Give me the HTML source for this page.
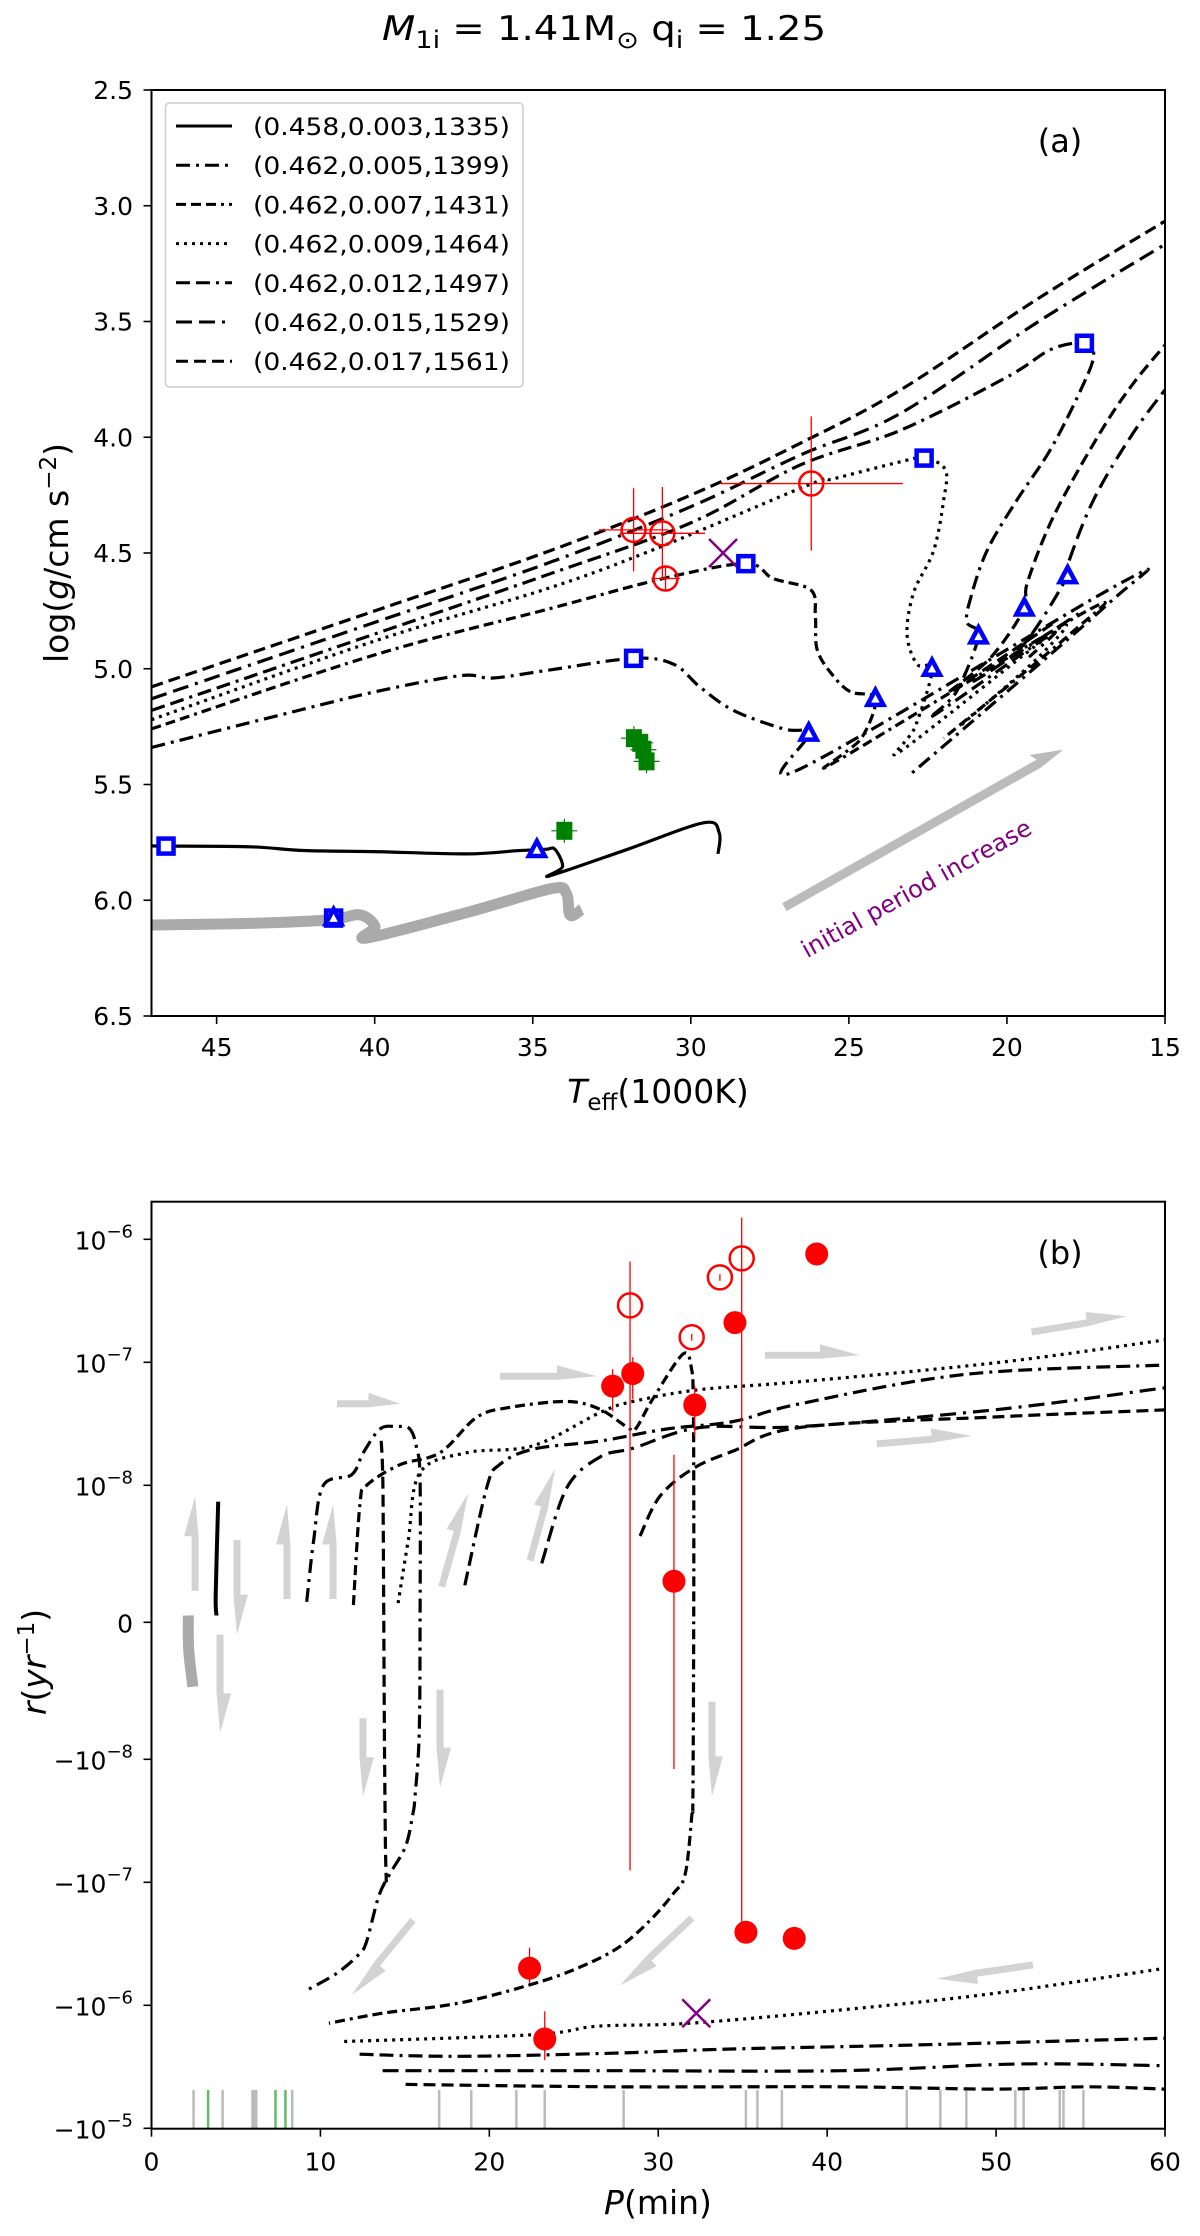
<!DOCTYPE html>
<html><head><meta charset="utf-8"><style>
body{margin:0;background:#fff}
svg text{font-family:"DejaVu Sans","Liberation Sans",sans-serif}
</style></head><body>
<svg id="fig" xmlns="http://www.w3.org/2000/svg" width="1200" height="2231" viewBox="0 0 1200 2231">
<rect width="1200" height="2231" fill="#fff"/>
<text x="604" y="40" font-size="34" text-anchor="middle" textLength="444" lengthAdjust="spacingAndGlyphs"><tspan font-style="italic">M</tspan><tspan font-size="24" dy="8">1i</tspan><tspan dy="-8"> = 1.41M</tspan><tspan font-size="24" dy="8">⊙</tspan><tspan dy="-8"> q</tspan><tspan font-size="24" dy="8">i</tspan><tspan dy="-8"> = 1.25</tspan></text>
<defs>
<clipPath id="clipA"><rect x="151.5" y="90" width="1013.5" height="926"/></clipPath>
<clipPath id="clipB"><rect x="151.5" y="1201.7" width="1013.5" height="927"/></clipPath>
</defs>
<g id="panelA"></g>
<g id="panelB"></g>
</svg>
<script>
// ---------- Panel (a) data: [Teff (1000K), log g] ----------
const a1335 = [[47.06,5.765],[46.6,5.766],[43.94,5.769],[42.26,5.785],[40,5.79],[37.1,5.80],[35.5,5.786],[34.6,5.78],[34.3,5.78],[34.06,5.855],[34.47,5.895],[32,5.78],[29.58,5.665],[29.1,5.71],[29.14,5.80]];
const aGray = [[47.06,6.107],[44,6.1],[41.44,6.085],[40.47,6.063],[39.99,6.114],[40.24,6.163],[37,6.05],[34.42,5.95],[33.94,5.97],[33.82,6.064],[33.45,6.04]];
const a1399 = [[47.06,5.34],[43,5.2],[40,5.1],[37.3,5.03],[36.25,5.04],[34.45,5.005],[31.81,4.955],[30.55,4.98],[29.7,5.08],[28.65,5.18],[27.07,5.26],[26.27,5.28],[26.5,5.43],[16.4,4.63],[16.8,4.72],[23.0,5.45]];
const a1431 = [[47.06,5.26],[40,4.94],[34.45,4.74],[30.87,4.61],[28.26,4.546],[27.4,4.61],[26.2,4.66],[26.06,4.775],[26.0,4.92],[25.5,5.03],[24.95,5.1],[24.16,5.13],[24.6,5.3],[25.4,5.4],[17.47,4.75],[18.0,4.85],[22.0,5.3]];
const a1464 = [[47.06,5.22],[40,4.88],[34.45,4.65],[30.9,4.47],[26.17,4.20],[25.5,4.18],[23.37,4.106],[22.62,4.09],[21.95,4.14],[22.0,4.27],[22.32,4.49],[22.95,4.67],[23.16,4.85],[22.85,4.98],[22.37,5.005],[22.9,5.25],[23.3,5.35],[18.4,4.83],[19.0,4.95],[21.5,5.25]];
const a1497 = [[47.06,5.18],[40,4.85],[34.45,4.59],[30,4.37],[26.54,4.12],[23.37,3.97],[20,3.74],[18.6,3.62],[17.55,3.594],[17.26,3.65],[17.68,3.80],[18.63,4.055],[19.68,4.27],[20.63,4.49],[21.16,4.70],[21.26,4.80],[20.9,4.86],[21.6,5.1],[22.3,5.2],[18.6,4.85],[19.3,4.95]];
const a1529 = [[47.06,5.13],[40,4.8],[34.45,4.54],[30,4.3],[26.54,4.077],[23.37,3.897],[19,3.5],[14.8,3.15]];
const a1529b = [[14.8,3.76],[16.0,3.98],[17.26,4.27],[18.1,4.56],[18.08,4.6],[19.5,4.9],[21.0,5.05],[17.6,4.75]];
const a1561 = [[47.06,5.078],[40,4.75],[34.45,4.49],[30,4.25],[26.54,4.026],[23.37,3.796],[19,3.4],[14.8,3.05]];
const a1561b = [[14.8,3.57],[16.0,3.767],[17.05,3.98],[18.52,4.34],[19.36,4.63],[19.45,4.74],[20.5,4.95],[21.8,5.1],[18.5,4.8]];
const aSquares = [[46.6,5.766],[31.81,4.955],[28.26,4.546],[22.62,4.09],[17.55,3.594],[41.3,6.077]];
const aTriangles = [[34.87,5.783],[26.27,5.28],[24.16,5.13],[22.37,5.0],[20.9,4.86],[19.45,4.74],[18.08,4.6],[41.3,6.077]];
const aGreen = [[34.0,5.70],[31.8,5.30],[31.6,5.32],[31.5,5.35],[31.4,5.40]];
const aObsT = [31.81,30.9,30.8,26.19];
const aObsG = [4.40,4.415,4.61,4.20];
const aObsTerr = [1.1,1.35,0.45,2.9];
const aObsGerr = [0.18,0.2,0.05,0.29];
const aCross = [28.98,4.50];
const aXticks = [45,40,35,30,25,20,15];
const aYticks = [2.5,3.0,3.5,4.0,4.5,5.0,5.5,6.0,6.5];

// ---------- Panel (b) data: [P (min), r (yr^-1)] ----------
const b1335 = [[3.95,8.8e-9],[3.8,2e-9],[3.85,5e-10]];
const bGray = [[2.18,5e-10],[2.2,-2e-9],[2.45,-4.7e-9]];
const b1399 = [[9.19,1.5e-9],[9.6,6e-9],[10.17,1.0e-8],[11.85,1.22e-8],[12.54,1.84e-8],[13.53,2.87e-8],[14.5,3.0e-8],[15.3,2.87e-8],[15.7,2.0e-8],[15.9,1.1e-8],[15.9,5e-10],[15.85,-8.1e-9],[15.6,-2.0e-8],[15.48,-2.75e-8],[15.04,-5.1e-8],[14.12,-8.5e-8],[13.45,-1.3e-7],[12.76,-2.95e-7],[12.32,-3.8e-7],[10.96,-5.5e-7],[9.15,-7.6e-7]];
const b1399drop = [[13.6,2.3e-8],[13.7,1e-8],[13.75,0],[13.8,-1e-8],[13.85,-5e-8],[13.9,-1e-7]];
const b1431 = [[11.95,1.26e-9],[12.34,8.6e-9],[12.74,1.0e-8],[14.71,1.47e-8],[17.08,1.84e-8],[19.25,3.57e-8],[21.22,4.3e-8],[24.58,4.8e-8],[26.55,4.15e-8],[28.32,2.87e-8],[28.72,2.95e-8],[29.7,5.1e-8],[31.48,1.17e-7],[31.98,8.7e-8],[32.07,4.8e-8],[32.1,1.7e-8],[32.1,0],[32.05,-2.0e-8],[32.0,-2.75e-8],[31.6,-8.5e-8],[30.9,-1.23e-7],[29.53,-2.03e-7],[27.72,-3.34e-7],[25.46,-4.83e-7],[22.74,-6.6e-7],[18.2,-9.6e-7],[13.68,-1.16e-6],[10.5,-1.4e-6]];
const b1464 = [[14.6,1.4e-9],[15.2,6e-9],[15.9,1.27e-8],[18.66,1.84e-8],[22.6,2.1e-8],[26.55,3.9e-8],[28.5,4.8e-8],[32.47,6.0e-8],[38.4,6.95e-8],[50.23,1.0e-7],[60,1.52e-7]];
const b1464n = [[11.41,-1.97e-6],[22.7,-1.73e-6],[26.4,-1.48e-6],[31.8,-1.4e-6],[40.85,-1.09e-6],[49.9,-8.0e-7],[60,-5.0e-7]];
const b1497 = [[18.55,2.7e-9],[19.84,9.8e-9],[20.6,1.47e-8],[22.6,1.97e-8],[26.55,2.29e-8],[30.5,2.87e-8],[34.44,3.3e-8],[38.38,4.6e-8],[48.26,8.0e-8],[60,9.5e-8]];
const b1497n = [[12.32,-2.5e-6],[18.2,-2.6e-6],[27.3,-2.45e-6],[34.1,-2.27e-6],[45.4,-2.1e-6],[60,-1.85e-6]];
const b1529 = [[23.1,4.3e-9],[24.58,9.8e-9],[26.55,1.7e-8],[28.5,2.0e-8],[32.47,2.95e-8],[38.38,3.0e-8],[50.2,4.15e-8],[60,6.2e-8]];
const b1529n = [[13.68,-3.4e-6],[27.3,-3.4e-6],[40.85,-3.4e-6],[51.3,-3.0e-6],[60,-3.1e-6]];
const b1561 = [[28.92,6.3e-9],[30.1,9.2e-9],[32.07,1.37e-8],[34.44,1.9e-8],[38.38,2.95e-8],[50,3.6e-8],[60,4.1e-8]];
const b1561n = [[15.04,-4.4e-6],[27.3,-4.6e-6],[40.85,-4.6e-6],[49.9,-4.8e-6],[55.4,-4.6e-6],[60,-4.8e-6]];
const bFilledP = [27.3,28.49,32.16,30.93,34.54,39.38,22.38,23.28,35.19,38.05];
const bFilledR = [6.4e-8,8.1e-8,4.5e-8,3.0e-9,2.1e-7,7.6e-7,-5.0e-7,-1.88e-6,-2.55e-7,-2.86e-7];
const bFilledLo = [4.0e-8,5.0e-8,2.5e-8,-1.2e-8,2.1e-7,7.6e-7,-6.6e-7,-2.8e-6,-2.55e-7,-2.86e-7];
const bFilledHi = [8.8e-8,1.1e-7,6.4e-8,1.77e-8,2.1e-7,7.6e-7,-3.4e-7,-1.12e-6,-2.55e-7,-2.86e-7];
const bOpenP = [28.33,31.98,33.65,34.94];
const bOpenR = [2.9e-7,1.6e-7,4.9e-7,7.0e-7];
const bOpenLo = [-8.0e-8,1.5e-7,4.6e-7,-2.55e-7];
const bOpenHi = [6.6e-7,1.7e-7,5.2e-7,1.5e-6];
const bCross = [32.25,-1.16e-6];
const bRugGray = [2.49,4.21,5.98,6.11,6.2,8.33,17.03,18.93,21.6,23.28,27.95,35.19,35.87,37.32,44.71,46.7,48.24,51.14,51.63,53.77,53.99,55.17];
const bRugGreen = [3.35,7.34,7.93];
const bArrows = [[2.58,2.3e-9,2.58,9.2e-9],[5.06,6e-9,5.06,-9e-10],[4.06,-9e-10,4.06,-8.1e-9],[8.02,1.7e-9,8.02,8.6e-9],[10.75,1.7e-9,10.75,8.6e-9],[12.52,-7e-9,12.52,-2.0e-8],[10.98,4.6e-8,14.71,4.6e-8],[17.18,2.6e-9,18.74,9.4e-9],[22.41,4.5e-9,23.89,1.36e-8],[20.63,7.7e-8,26.37,7.7e-8],[17.08,-4.9e-9,17.08,-1.7e-8],[33.18,-5.8e-9,33.18,-2.0e-8],[36.32,1.14e-7,41.94,1.14e-7],[52.1,1.76e-7,57.73,2.37e-7],[42.93,2.17e-8,48.55,2.52e-8],[15.48,-2.03e-7,11.87,-8.2e-7],[32.0,-1.95e-7,27.73,-6.9e-7],[52.18,-4.7e-7,46.5,-6.1e-7]];
const bXticks = [0,10,20,30,40,50,60];
const bYticks = [1e-6,1e-7,1e-8,0,-1e-8,-1e-7,-1e-6,-1e-5];
const bYtickLabels = [["10","−6"],["10","−7"],["10","−8"],["0",""],["−10","−8"],["−10","−7"],["−10","−6"],["−10","−5"]];

const legendLabels = ["(0.458,0.003,1335)","(0.462,0.005,1399)","(0.462,0.007,1431)","(0.462,0.009,1464)","(0.462,0.012,1497)","(0.462,0.015,1529)","(0.462,0.017,1561)"];

// ---------- scales ----------
const AX0=151.5, AX1=1165, AY0=90, AY1=1016;
function xT(t){return AX0+(47.06-t)/(47.06-15)*(AX1-AX0);}
function yG(g){return AY0+(g-2.5)/4*(AY1-AY0);}
const BX0=151.5, BX1=1165, BY0=1201.7, BY1=2128.7, BZ=1622.3, LIN=137, DEC=123;
function xP(p){return BX0+p/60*(BX1-BX0);}
function yR(r){
  if(r>=1e-8) return BZ-(LIN+DEC*Math.log10(r/1e-8));
  if(r<=-1e-8) return BZ+(LIN+DEC*Math.log10(-r/1e-8));
  return BZ-r/1e-8*LIN;
}
const NS="http://www.w3.org/2000/svg";
function mk(tag,attrs,parent){const e=document.createElementNS(NS,tag);for(const k in attrs)e.setAttribute(k,attrs[k]);parent.appendChild(e);return e;}
function smooth(pts){
  let d="M"+pts[0][0].toFixed(1)+","+pts[0][1].toFixed(1);
  for(let i=0;i<pts.length-1;i++){
    const p0=pts[Math.max(i-1,0)],p1=pts[i],p2=pts[i+1],p3=pts[Math.min(i+2,pts.length-1)];
    const c1=[p1[0]+(p2[0]-p0[0])/6,p1[1]+(p2[1]-p0[1])/6];
    const c2=[p2[0]-(p3[0]-p1[0])/6,p2[1]-(p3[1]-p1[1])/6];
    d+=" C"+c1[0].toFixed(1)+","+c1[1].toFixed(1)+" "+c2[0].toFixed(1)+","+c2[1].toFixed(1)+" "+p2[0].toFixed(1)+","+p2[1].toFixed(1);
  }
  return d;
}
const dash={"1335":"none","1399":"14,6,3,6","1431":"10,5,10,5,10,5,3,5","1464":"3,5","1497":"14,6,14,6,3,6","1529":"16,7,16,7,3,7","1561":"12,6"};

const A=document.getElementById('panelA');
const B=document.getElementById('panelB');

// ---------- Panel A ----------
const gA=mk('g',{'clip-path':'url(#clipA)'},A);


let el=mk('path',{d:smooth(aGray.map(p=>[xT(p[0]),yG(p[1])])),fill:'none',stroke:'#aaaaaa','stroke-width':11},gA);


const aSeries=[[a1335,'1335'],[a1399,'1399'],[a1431,'1431'],[a1464,'1464'],[a1497,'1497'],[a1529,'1529'],[a1529b,'1529'],[a1561,'1561'],[a1561b,'1561']];
aSeries.forEach(s=>{
  const e=mk('path',{d:smooth(s[0].map(p=>[xT(p[0]),yG(p[1])])),fill:'none',stroke:'#000','stroke-width':3.2,'stroke-dasharray':dash[s[1]]},gA);
  
  
});
const arA=[27.04,6.03,18.22,5.35];
(function(){
  const x1=xT(arA[0]),y1=yG(arA[1]),x2=xT(arA[2]),y2=yG(arA[3]);
  const ang=Math.atan2(y2-y1,x2-x1),L=Math.hypot(x2-x1,y2-y1);
  const g=mk('g',{transform:`translate(${x1},${y1}) rotate(${ang*180/Math.PI})`},A);
  
  
  mk('polygon',{points:`0,-4.5 ${L-28},-4.5 ${L-32},-12 ${L},0 ${L-28},4.5 0,4.5`,fill:'#bbbbbb'},g);
})();
el=mk('text',{x:xT(22.74),y:yG(5.98),'font-size':24,fill:'#800080','text-anchor':'middle',transform:`rotate(-29 ${xT(22.74)} ${yG(5.98)})`},A);
el.textContent='initial period increase';


aGreen.forEach(p=>{
  const x=xT(p[0]),y=yG(p[1]);
  const g=mk('g',{},gA);
  
  
  mk('line',{x1:x-13,x2:x+13,y1:y,y2:y,stroke:'#008000','stroke-width':1.2},g);
  mk('line',{x1:x,x2:x,y1:y-12,y2:y+12,stroke:'#008000','stroke-width':1.2},g);
  mk('rect',{x:x-8,y:y-9,width:16,height:18,fill:'#008000'},g);
});
aObsT.forEach((t,i)=>{
  const x=xT(t),y=yG(aObsG[i]);
  const g=mk('g',{},gA);
  
  
  mk('line',{x1:xT(t+aObsTerr[i]),x2:xT(t-aObsTerr[i]),y1:y,y2:y,stroke:'#ff0000','stroke-width':1.3},g);
  mk('line',{x1:x,x2:x,y1:yG(aObsG[i]-aObsGerr[i]),y2:yG(aObsG[i]+aObsGerr[i]),stroke:'#ff0000','stroke-width':1.3},g);
  mk('circle',{cx:x,cy:y,r:12,fill:'none',stroke:'#ff0000','stroke-width':2.5},g);
});
(function(){
  const x=xT(aCross[0]),y=yG(aCross[1]);
  const g=mk('g',{},gA);
  
  
  mk('path',{d:`M${x-14},${y-14}L${x+14},${y+14}M${x-14},${y+14}L${x+14},${y-14}`,stroke:'#800080','stroke-width':2.5},g);
})();
aSquares.forEach(p=>{
  const e=mk('rect',{x:xT(p[0])-7.5,y:yG(p[1])-7.5,width:15,height:15,fill:'#fff',stroke:'#0000ff','stroke-width':4.5},gA);
  
  
});
aTriangles.forEach(p=>{
  const x=xT(p[0]),y=yG(p[1]);
  const e=mk('polygon',{points:`${x},${y-9} ${x-8},${y+6} ${x+8},${y+6}`,fill:'#fff',stroke:'#0000ff','stroke-width':4.5,'stroke-linejoin':'miter'},gA);
  
  
});
el=mk('rect',{x:AX0,y:AY0,width:AX1-AX0,height:AY1-AY0,fill:'none',stroke:'#000','stroke-width':2},A);


aXticks.forEach(t=>{
  const x=xT(t);
  mk('line',{x1:x,x2:x,y1:AY1,y2:AY1+8,stroke:'#000','stroke-width':1.6},A);
  const e=mk('text',{x:x,y:AY1+40,'font-size':25,'text-anchor':'middle'},A);
  e.textContent=String(t);
  
  
});
aYticks.forEach(v=>{
  const y=yG(v);
  mk('line',{x1:AX0-8,x2:AX0,y1:y,y2:y,stroke:'#000','stroke-width':1.6},A);
  const e=mk('text',{x:133,y:y+9,'font-size':25,'text-anchor':'end'},A);
  e.textContent=v.toFixed(1);
  
  
});
el=mk('text',{x:658,y:1103,'font-size':33,'text-anchor':'middle'},A);
el.innerHTML='<tspan font-style="italic">T</tspan><tspan font-size="23" dy="7">eff</tspan><tspan dy="-7">(1000K)</tspan>';


el=mk('text',{x:0,y:0,'font-size':33,'text-anchor':'middle',transform:'translate(68,553) rotate(-90)'},A);
el.innerHTML='log(<tspan font-style="italic">g</tspan>/cm s<tspan font-size="23" dy="-12">−2</tspan><tspan dy="12">)</tspan>';


el=mk('text',{x:1060,y:152,'font-size':32,'text-anchor':'middle'},A);
el.textContent='(a)';


const leg=mk('g',{},A);


mk('rect',{x:165.5,y:103,width:357.5,height:284,rx:4,fill:'#fff','fill-opacity':0.85,stroke:'#cccccc','stroke-width':1.5},leg);
const legKeys=['1335','1399','1431','1464','1497','1529','1561'];
legendLabels.forEach((lab,i)=>{
  const y=126+i*39.2;
  const g=mk('g',{},leg);
  
  
  mk('line',{x1:176,x2:232,y1:y,y2:y,stroke:'#000','stroke-width':3,'stroke-dasharray':dash[legKeys[i]]},g);
  const t=mk('text',{x:253,y:y+9,'font-size':24,textLength:257,lengthAdjust:'spacingAndGlyphs'},g);
  t.textContent=lab;
});

// ---------- Panel B ----------
const gB=mk('g',{'clip-path':'url(#clipB)'},B);


bArrows.forEach(a=>{
  const x1=xP(a[0]),y1=yR(a[1]),x2=xP(a[2]),y2=yR(a[3]);
  const ang=Math.atan2(y2-y1,x2-x1),L=Math.hypot(x2-x1,y2-y1);
  const g=mk('g',{transform:`translate(${x1},${y1}) rotate(${ang*180/Math.PI})`},gB);
  
  
  const h=Math.min(40,L*0.5);
  mk('polygon',{points:`0,-3.5 ${L-h},-3.5 ${L-h},-11 ${L},0 ${L-h},3.5 0,3.5`,fill:'#d3d3d3'},g);
});
bRugGray.forEach(p=>{
  const e=mk('line',{x1:xP(p),x2:xP(p),y1:2090,y2:BY1,stroke:'#bbbbbb','stroke-width':2.5},gB);
  
  
});
bRugGreen.forEach(p=>{
  const e=mk('line',{x1:xP(p),x2:xP(p),y1:2090,y2:BY1,stroke:'#66bb66','stroke-width':2.5},gB);
  
  
});
el=mk('path',{d:smooth(bGray.map(p=>[xP(p[0]),yR(p[1])])),fill:'none',stroke:'#aaaaaa','stroke-width':11},gB);


const bSeries=[[b1335,'1335'],[b1399,'1399'],[b1399drop,'1561'],[b1431,'1431'],[b1464,'1464'],[b1464n,'1464'],[b1497,'1497'],[b1497n,'1497'],[b1529,'1529'],[b1529n,'1529'],[b1561,'1561'],[b1561n,'1561']];
bSeries.forEach(s=>{
  const e=mk('path',{d:smooth(s[0].map(p=>[xP(p[0]),yR(p[1])])),fill:'none',stroke:'#000','stroke-width':s[1]==='1335'?4:3.2,'stroke-dasharray':dash[s[1]]},gB);
  
  
});
bOpenP.forEach((p,i)=>{
  const g=mk('g',{},gB);
  
  
  mk('line',{x1:xP(p),x2:xP(p),y1:yR(bOpenHi[i]),y2:yR(bOpenLo[i]),stroke:'#ff0000','stroke-width':1.3},g);
  mk('circle',{cx:xP(p),cy:yR(bOpenR[i]),r:12,fill:'none',stroke:'#ff0000','stroke-width':2.5},g);
});
bFilledP.forEach((p,i)=>{
  const g=mk('g',{},gB);
  
  
  mk('line',{x1:xP(p),x2:xP(p),y1:yR(bFilledHi[i]),y2:yR(bFilledLo[i]),stroke:'#ff0000','stroke-width':1.3},g);
  mk('circle',{cx:xP(p),cy:yR(bFilledR[i]),r:11.5,fill:'#ff0000'},g);
});
(function(){
  const x=xP(bCross[0]),y=yR(bCross[1]);
  const g=mk('g',{},gB);
  
  
  mk('path',{d:`M${x-14},${y-14}L${x+14},${y+14}M${x-14},${y+14}L${x+14},${y-14}`,stroke:'#800080','stroke-width':2.5},g);
})();
el=mk('rect',{x:BX0,y:BY0,width:BX1-BX0,height:BY1-BY0,fill:'none',stroke:'#000','stroke-width':2},B);


bXticks.forEach(t=>{
  const x=xP(t);
  mk('line',{x1:x,x2:x,y1:BY1,y2:BY1+8,stroke:'#000','stroke-width':1.6},B);
  const e=mk('text',{x:x,y:BY1+42,'font-size':25,'text-anchor':'middle'},B);
  e.textContent=String(t);
  
  
});
bYticks.forEach((v,i)=>{
  const y=yR(v);
  mk('line',{x1:BX0-8,x2:BX0,y1:y,y2:y,stroke:'#000','stroke-width':1.6},B);
  const e=mk('text',{x:133,y:y+10,'font-size':25,'text-anchor':'end'},B);
  const lab=bYtickLabels[i];
  if(lab[1]) e.innerHTML=lab[0]+'<tspan font-size="18" dy="-12">'+lab[1]+'</tspan>';
  else e.textContent=lab[0];
  
  
});
el=mk('text',{x:658,y:2214,'font-size':33,'text-anchor':'middle'},B);
el.innerHTML='<tspan font-style="italic">P</tspan>(min)';


el=mk('text',{x:0,y:0,'font-size':33,'text-anchor':'middle',transform:'translate(46,1662) rotate(-90)'},B);
el.innerHTML='<tspan font-style="italic">r</tspan>(<tspan font-style="italic">yr</tspan><tspan font-size="23" dy="-12">−1</tspan><tspan dy="12">)</tspan>';


el=mk('text',{x:1060,y:1264,'font-size':32,'text-anchor':'middle'},B);
el.textContent='(b)';


</script>
</body></html>
